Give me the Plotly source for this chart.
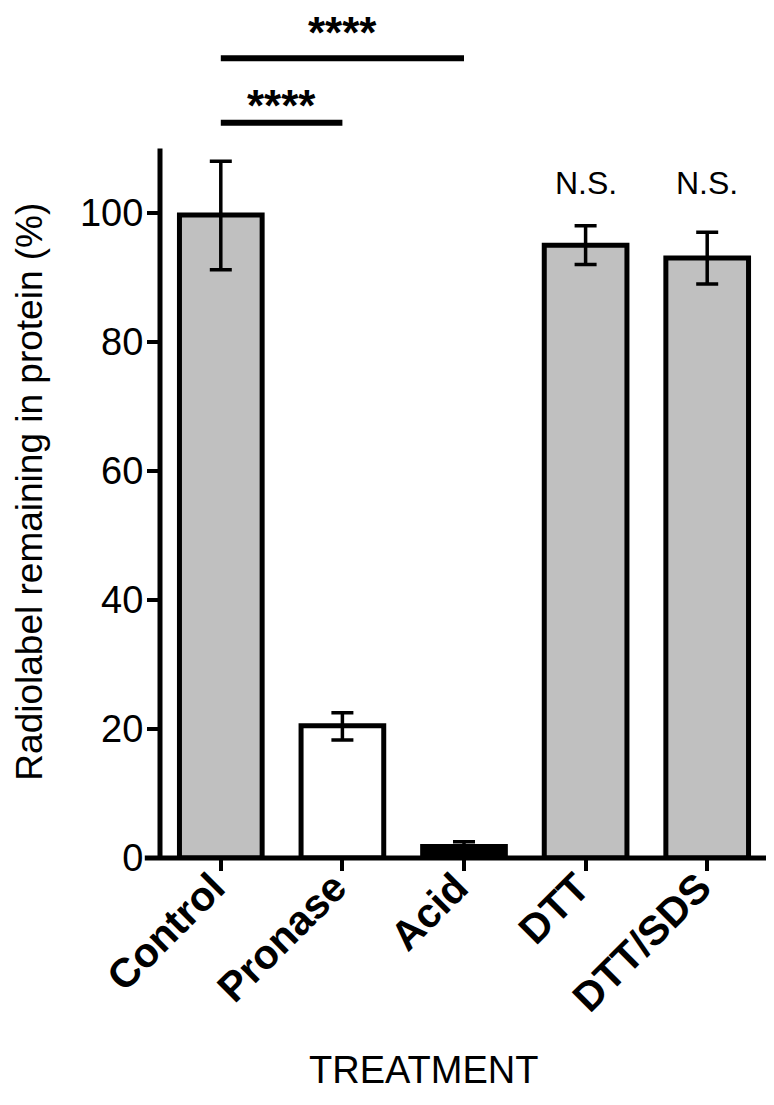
import plotly.graph_objects as go

categories = ["Control", "Pronase", "Acid", "DTT", "DTT/SDS"]
means = [99.7, 20.5, 1.8, 95.0, 93.0]
err_plus = [8.3, 2.0, 0.7, 3.0, 4.0]
err_minus = [8.5, 2.2, 0.6, 3.0, 4.0]
bar_colors = ["#c0c0c0", "#ffffff", "#000000", "#c0c0c0", "#c0c0c0"]

# significance brackets: (from, to, line height, label height, label)
sig_pairs = [(0, 2, 124, 128.0, "****"), (0, 1, 114, 116.6, "****")]
ns_labels = [(3, "N.S."), (4, "N.S.")]

FONT = "Liberation Sans, Arial, sans-serif"

fig = go.Figure()
fig.add_trace(go.Bar(
    x=list(range(len(categories))), y=means, width=0.68,
    marker=dict(color=bar_colors, line=dict(color="black", width=5)),
    error_y=dict(type="data", array=err_plus, arrayminus=err_minus,
                 color="black", thickness=3.5, width=11),
))

# axis lines drawn as shapes (y axis stops at 110, x axis pokes out left)
fig.add_shape(type="line", xref="x domain", yref="y", x0=0, x1=0, y0=0, y1=110,
              line=dict(color="black", width=5))
fig.add_shape(type="line", xref="x domain", yref="y domain", x0=-0.025, x1=1, y0=0, y1=0,
              line=dict(color="black", width=5))

for a, b, h, ty, lab in sig_pairs:
    fig.add_shape(type="line", xref="x", yref="y", x0=a, x1=b, y0=h, y1=h,
                  line=dict(color="black", width=6))
    fig.add_annotation(x=(a + b) / 2, y=ty, text=lab, showarrow=False, yanchor="middle",
                       borderpad=0,
                       font=dict(family=FONT, size=44, color="black", weight="bold"))

for i, lab in ns_labels:
    fig.add_annotation(x=i, y=104.6, text=lab, showarrow=False,
                       font=dict(family=FONT, size=32, color="black"))

# axis titles as annotations so they sit where the original has them
fig.add_annotation(xref="paper", yref="y", x=-0.2138, y=56.8, textangle=-90,
                   text="Radiolabel remaining in protein (%)", showarrow=False,
                   xanchor="center", yanchor="middle", borderpad=0,
                   font=dict(family=FONT, size=37, color="black"))
fig.add_annotation(xref="paper", yref="paper", x=0.4326, y=-0.251,
                   text="TREATMENT", showarrow=False, xanchor="center", yanchor="middle",
                   font=dict(family=FONT, size=38, color="black"))

fig.update_layout(
    width=766, height=1097, margin=dict(l=152, r=6, t=5, b=247),
    plot_bgcolor="white", paper_bgcolor="white", showlegend=False,
    font=dict(family=FONT, color="black"),
)
fig.update_xaxes(range=[-0.5, 4.5], tickvals=list(range(len(categories))), ticktext=categories,
                 tickangle=-45, ticks="outside", ticklen=12, tickwidth=4, tickcolor="black",
                 tickfont=dict(family=FONT, size=41, color="black", weight="bold"),
                 ticklabelstandoff=-24, ticklabelshift=-8,
                 showline=False, showgrid=False, zeroline=False, automargin=False)
fig.update_yaxes(range=[0, 131], tickvals=[0, 20, 40, 60, 80, 100],
                 ticks="outside", ticklen=12, tickwidth=4, tickcolor="black",
                 tickfont=dict(family=FONT, size=38, color="black"),
                 ticklabelstandoff=-4,
                 showline=False, showgrid=False, zeroline=False, automargin=False)

fig.write_html("out.html")
